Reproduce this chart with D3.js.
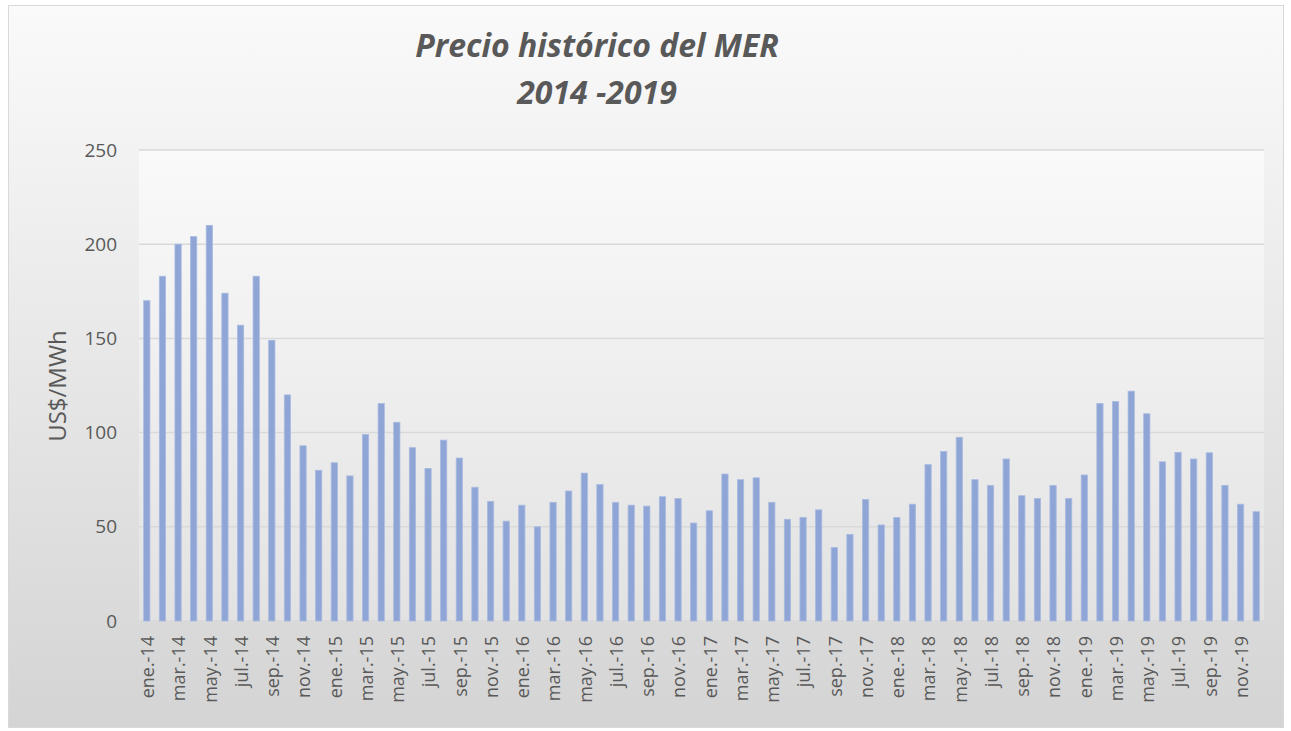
<!DOCTYPE html>
<html>
<head>
<meta charset="utf-8">
<script src="https://cdn.jsdelivr.net/npm/d3@7"></script>
<style>
  body { margin: 0; background: #fff; }
  text { font-family: "Open Sans", "Noto Sans", sans-serif; }
</style>
</head>
<body>
<div id="chart"></div>
<script>
var width = 1291, height = 731;

var months = ["ene.", "feb.", "mar.", "abr.", "may.", "jun.", "jul.", "ago.", "sep.", "oct.", "nov.", "dic."];
var years = ["14", "15", "16", "17", "18", "19"];

// precio mensual US$/MWh, ene-14 .. dic-19
var precio2014 = [170, 183, 200, 204, 210, 174, 157, 183, 149, 120, 93, 80];
var precio2015 = [84, 77, 99, 115.5, 105.5, 92, 81, 96, 86.5, 71, 63.5, 53];
var precio2016 = [61.5, 50, 63, 69, 78.5, 72.5, 63, 61.5, 61, 66, 65, 52];
var precio2017 = [58.5, 78, 75, 76, 63, 54, 55, 59, 39, 46, 64.5, 51];
var precio2018 = [55, 62, 83, 90, 97.5, 75, 72, 86, 66.5, 65, 72, 65];
var precio2019 = [77.5, 115.5, 116.5, 122, 110, 84.5, 89.5, 86, 89.3, 72, 62, 58];

var yTicks = [0, 50, 100, 150, 200, 250];

var labels = [];
years.forEach(function (y) {
	months.forEach(function (m) { labels.push(m + "-" + y); });
});
var values = [].concat(precio2014, precio2015, precio2016, precio2017, precio2018, precio2019);
var data = labels.map(function (l, i) { return {mes: l, valor: values[i]}; });

var svg = d3.select("#chart").append("svg")
	.attr("width", width)
	.attr("height", height);

var defs = svg.append("defs");
var bg = defs.append("linearGradient").attr("id", "bg")
	.attr("x1", 0).attr("y1", 0).attr("x2", 0).attr("y2", 1);
bg.append("stop").attr("offset", "0%").attr("stop-color", "#fafafa");
bg.append("stop").attr("offset", "100%").attr("stop-color", "#d4d4d4");
var pg = defs.append("linearGradient").attr("id", "pg")
	.attr("x1", 0).attr("y1", 0).attr("x2", 0).attr("y2", 1);
pg.append("stop").attr("offset", "0%").attr("stop-color", "#fafafa");
pg.append("stop").attr("offset", "100%").attr("stop-color", "#e2e2e2");

// chart area
svg.append("rect")
	.attr("x", 8.5).attr("y", 5.5)
	.attr("width", 1275).attr("height", 722)
	.style("fill", "url(#bg)")
	.style("stroke", "#d9d9d9");

var margin = {top: 150, right: 27, bottom: 110, left: 139};
var pw = width - margin.left - margin.right;
var ph = height - margin.top - margin.bottom;

var g = svg.append("g").attr("transform", "translate(" + margin.left + "," + margin.top + ")");

g.append("rect")
	.attr("width", pw).attr("height", ph)
	.style("fill", "url(#pg)");

var x = d3.scaleBand().domain(labels).range([0, pw]).paddingInner(0.6).paddingOuter(0.3);
var y = d3.scaleLinear().domain([0, 250]).range([ph, 0]);

// grid
g.selectAll(".grid")
	.data(yTicks)
	.enter()
	.append("line")
	.attr("x1", 0).attr("x2", pw)
	.attr("y1", function (d) { return y(d); })
	.attr("y2", function (d) { return y(d); })
	.style("stroke", "#d9d9d9")
	.style("stroke-width", 1.5);

// bars
g.selectAll(".bar")
	.data(data)
	.enter()
	.append("rect")
	.attr("x", function (d) { return x(d.mes); })
	.attr("y", function (d) { return y(d.valor); })
	.attr("width", x.bandwidth())
	.attr("height", function (d) { return ph - y(d.valor); })
	.style("fill", "#8fa5d6")
	.style("stroke", "#a9bbe0")
	.style("stroke-width", 0.8);

// y axis
var yAxis = g.append("g")
	.call(d3.axisLeft(y).tickValues(yTicks).tickSize(0).tickPadding(22));
yAxis.select(".domain").remove();
yAxis.selectAll("text")
	.style("font-size", "19px")
	.style("fill", "#595959");

// x axis
var xAxis = g.append("g")
	.attr("transform", "translate(0," + ph + ")")
	.call(d3.axisBottom(x).tickValues(labels.filter(function (d, i) { return i % 2 == 0; })).tickSize(0));
xAxis.select(".domain").remove();
xAxis.selectAll("text")
	.attr("transform", "rotate(-90)")
	.attr("x", -15)
	.attr("y", 1)
	.attr("dy", "0.35em")
	.style("text-anchor", "end")
	.style("font-size", "18px")
	.style("fill", "#595959");

// axis title
svg.append("text")
	.attr("transform", "translate(66,386) rotate(-90)")
	.style("text-anchor", "middle")
	.style("font-size", "24px")
	.style("fill", "#595959")
	.text("US$/MWh");

// title
var title = svg.append("text")
	.attr("x", 597)
	.style("text-anchor", "middle")
	.style("font-size", "32px")
	.style("font-weight", "bold")
	.style("font-style", "italic")
	.style("fill", "#595959");
title.append("tspan").attr("x", 597).attr("y", 57).text("Precio histórico del MER");
title.append("tspan").attr("x", 597).attr("y", 104).text("2014 -2019");
</script>
</body>
</html>
